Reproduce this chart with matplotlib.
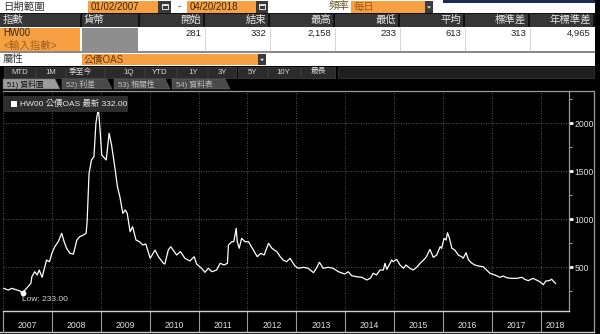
import matplotlib
matplotlib.use('Agg')
import matplotlib.pyplot as plt
from matplotlib.patches import Rectangle, Polygon, Circle
from matplotlib.ticker import FixedLocator, NullFormatter, FixedFormatter
import numpy as np

plt.rcParams['font.family'] = ['Liberation Sans', 'Noto Sans CJK TC', 'DejaVu Sans']

# ---------------- data ----------------
years = [2007.01, 2007.11, 2007.18, 2007.28, 2007.35, 2007.40, 2007.48, 2007.57, 2007.59, 2007.65,
         2007.70, 2007.74, 2007.80, 2007.89, 2007.95, 2008.00, 2008.06, 2008.13, 2008.20, 2008.25,
         2008.30, 2008.37, 2008.44, 2008.51, 2008.57, 2008.64, 2008.70, 2008.72, 2008.76, 2008.81,
         2008.86, 2008.90, 2008.95, 2008.98, 2009.02, 2009.05, 2009.11, 2009.13, 2009.17, 2009.22,
         2009.29, 2009.34, 2009.39, 2009.45, 2009.50, 2009.54, 2009.60, 2009.65, 2009.72, 2009.79,
         2009.86, 2009.92, 2010.01, 2010.11, 2010.18, 2010.28, 2010.31, 2010.38, 2010.43, 2010.48,
         2010.55, 2010.63, 2010.72, 2010.82, 2010.91, 2010.96, 2011.06, 2011.13, 2011.20, 2011.27,
         2011.37, 2011.44, 2011.52, 2011.59, 2011.61, 2011.68, 2011.72, 2011.77, 2011.79, 2011.83,
         2011.88, 2011.95, 2012.02, 2012.12, 2012.20, 2012.27, 2012.34, 2012.43, 2012.50, 2012.60,
         2012.67, 2012.73, 2012.80, 2012.87, 2012.97, 2013.04, 2013.14, 2013.24, 2013.35, 2013.42,
         2013.47, 2013.55, 2013.65, 2013.75, 2013.86, 2013.99, 2014.06, 2014.13, 2014.23, 2014.34,
         2014.44, 2014.51, 2014.57, 2014.64, 2014.71, 2014.78, 2014.81, 2014.85, 2014.95, 2014.98,
         2015.05, 2015.12, 2015.19, 2015.24, 2015.32, 2015.39, 2015.46, 2015.53, 2015.60, 2015.66,
         2015.73, 2015.80, 2015.87, 2015.94, 2015.97, 2016.02, 2016.06, 2016.09, 2016.13, 2016.18,
         2016.24, 2016.31, 2016.38, 2016.41, 2016.47, 2016.52, 2016.59, 2016.65, 2016.72, 2016.82,
         2016.89, 2016.96, 2017.06, 2017.16, 2017.23, 2017.30, 2017.40, 2017.51, 2017.61, 2017.67,
         2017.74, 2017.84, 2017.91, 2017.98, 2018.05, 2018.10, 2018.17, 2018.22, 2018.30]
oas = [281, 263, 281, 264, 253, 233, 281, 333, 402, 454,
       420, 472, 396, 576, 558, 646, 715, 767, 854, 767,
       698, 646, 638, 784, 819, 836, 854, 975, 1479, 1618,
       1652, 2000, 2158, 1965, 1670, 1652, 1618, 1704, 1896, 1774,
       1531, 1340, 1235, 1062, 1097, 1062, 871, 923, 784, 767,
       732, 743, 594, 680, 610, 542, 534, 680, 715, 680,
       628, 663, 594, 566, 610, 534, 490, 448, 490, 454,
       472, 542, 524, 542, 732, 767, 767, 906, 767, 698,
       802, 767, 767, 680, 610, 646, 628, 750, 698, 663,
       610, 576, 558, 594, 514, 490, 500, 490, 444, 500,
       552, 490, 500, 490, 454, 430, 454, 413, 402, 396,
       368, 385, 437, 420, 472, 472, 542, 479, 576, 558,
       583, 524, 490, 524, 490, 472, 500, 542, 576, 610,
       687, 604, 628, 715, 698, 802, 784, 860, 802, 698,
       680, 628, 610, 594, 652, 576, 542, 524, 514, 506,
       472, 437, 420, 396, 409, 392, 385, 385, 396, 375,
       361, 385, 368, 350, 319, 357, 361, 375, 332]

ticker_name = 'HW00'
field_name = '公債OAS'
start_date = '01/02/2007'
end_date = '04/20/2018'
frequency = '每日'
stat_headers = ['開始', '結束', '最高', '最低', '平均', '標準差', '年標準差']
stat_values = ['281', '332', '2,158', '233', '613', '313', '4,965']
range_buttons = ['MTD', '1M', '季至今', '1Q', 'YTD', '1Y', '3Y', '5Y', '10Y', '最長']
tab_labels = ['51) 資料圖', '52) 利差', '53) 相關性', '54) 資料表']
year_labels = [str(y) for y in range(2007, 2019)]
y_ticks = [500, 1000, 1500, 2000]
y_minor = [250, 750, 1250, 1750, 2250]

# ---------------- figure ----------------
W, H = 600, 334
fig = plt.figure(figsize=(W / 100, H / 100), dpi=100, facecolor='black')

ui = fig.add_axes([0, 0, 1, 1], zorder=0)
ui.set_xlim(0, W); ui.set_ylim(H, 0); ui.axis('off')
ui.set_facecolor('black')

ORANGE = '#F7A043'
WHITE = '#FFFFFF'
GRAYCELL = '#8E8E8E'
HDR = '#363636'


def rect(x0, y0, x1, y1, fc, ec='none', lw=0, z=1):
    ui.add_patch(Rectangle((x0, y0), x1 - x0, y1 - y0, facecolor=fc, edgecolor=ec, linewidth=lw, zorder=z))


def txt(x, y, s, color, ha='left', size=7, z=3, **kw):
    ui.text(x, y, s, color=color, ha=ha, va='center', fontsize=size, zorder=z, **kw)


def icon_box(x0, x1, y0, y1, kind='cal'):
    rect(x0, y0, x1, y1, '#3a3a3a', z=2)
    cx, cy = (x0 + x1) / 2, (y0 + y1) / 2
    if kind == 'cal':
        rect(cx - 3, cy - 2.5, cx + 3, cy + 2.5, 'none', ec='#e0e0e0', lw=0.7, z=3)
        rect(cx - 3, cy - 2.5, cx + 3, cy - 1, '#e0e0e0', z=3)
    else:
        ui.add_patch(Polygon([[cx - 2, cy - 0.5], [cx + 2, cy - 0.5], [cx, cy + 2]], closed=True,
                             facecolor='#e0e0e0', edgecolor='none', zorder=3))


# Row 1 : date range / frequency
rect(0, 0, 595, 13, WHITE)
rect(443, 0, 595, 2.5, '#1b2a55', z=2)
txt(3, 6.5, '日期範圍', '#3a3a3a', size=7.5)
rect(88, 1, 158, 12.5, ORANGE, z=2)
txt(91, 6.8, start_date, '#3a2808', size=7)
icon_box(158, 171, 1, 12.5)
txt(179, 6.5, '-', '#333333', ha='center', size=7)
rect(187, 1, 256, 12.5, ORANGE, z=2)
txt(190, 6.8, end_date, '#3a2808', size=7)
icon_box(256, 268, 1, 12.5)
txt(349, 6.5, '頻率', '#6b5520', ha='right', size=7.5)
rect(351, 1, 425, 12.5, ORANGE, z=2)
txt(354, 6.5, frequency, '#a85a14', size=7.5)
icon_box(425, 433, 1, 12.5, kind='dd')

# Row 2 : statistic headers
rect(0, 13, 595, 27, '#111111')
col_edges = [140, 205, 270, 335, 400, 465, 530, 595]
rect(0, 13.5, 80, 26.5, HDR, z=2)
txt(3, 20, '指數', '#e6e6e6', size=7.5)
rect(82, 13.5, 138, 26.5, HDR, z=2)
txt(84, 20, '貨幣', '#e6e6e6', size=7.5)
for i, h in enumerate(stat_headers):
    x0, x1 = col_edges[i], col_edges[i + 1]
    rect(x0, 13.5, x1 - 2, 26.5, HDR, z=2)
    txt(x1 - 4, 20, h, '#e6e6e6', ha='right', size=7.5)

# Rows 3-4 : ticker rows
rect(0, 27, 595, 51, WHITE)
rect(0, 27.5, 80, 39.5, ORANGE, z=2)
txt(3, 33.5, ticker_name, '#3a2808', size=7)
rect(0, 40, 80, 51, ORANGE, z=2)
txt(3, 45.5, '<輸入指數>', '#a0601c', size=7.5)
rect(82, 27.5, 138, 39.5, GRAYCELL, z=2)
rect(82, 40, 138, 51, GRAYCELL, z=2)
for i, v in enumerate(stat_values):
    x1 = col_edges[i + 1]
    txt(x1 - 4, 33.5, v, '#222222', ha='right', size=6.8)
    if i < len(stat_values) - 1:
        ui.plot([x1, x1], [27.5, 51], color='#d0d0d0', lw=0.6, zorder=2)
rect(0, 51, 595, 53, '#8a8a8a', z=2)

# Row 5 : field
rect(0, 53, 595, 65.5, WHITE)
txt(3, 59.3, '屬性', '#3a3a3a', size=7.5)
rect(82, 53.5, 258, 65, ORANGE, z=2)
txt(84, 59.5, field_name, '#6a3a08', size=7)
icon_box(258, 266, 53.5, 65, kind='dd')

# Row 6 : range buttons
btn_centers = [20, 51, 80, 129, 160, 193, 222, 252, 283, 318]
btn_edges = [3, 35.5, 65.5, 104.5, 144.5, 176.5, 207.5, 237, 267.5, 300.5, 336]
for i, lab in enumerate(range_buttons):
    rect(btn_edges[i] + 0.7, 66.5, btn_edges[i + 1] - 0.7, 77.5, '#2b2b2b', ec='#444444', lw=0.5, z=2)
    txt(btn_centers[i], 72, lab, '#d8d8d8', ha='center', size=5.6)
rect(338, 66.5, 594, 77.5, '#1f1f1f', ec='#3a3a3a', lw=0.5, z=2)

# Row 7 : tabs
tab_edges = [(3, 60), (62, 112), (114, 170), (172, 230)]
for i, (lab, (x0, x1)) in enumerate(zip(tab_labels, tab_edges)):
    fc = '#9c9c9c' if i == 0 else '#4a4a4a'
    tc = '#111111' if i == 0 else '#bdbdbd'
    ui.add_patch(Polygon([[x0, 89], [x0, 79], [x1 - 5, 79], [x1, 89]], closed=True,
                         facecolor=fc, edgecolor='#666666', linewidth=0.4, zorder=2))
    txt(x0 + 4, 84.3, lab, tc, size=5.6)

# chart frame lines (outer)
ui.plot([569, 594, 594], [91, 91, 332], color='#9a9a9a', lw=0.9, zorder=2)
ui.plot([0, 594], [331.8, 331.8], color='#cfcfcf', lw=1.0, zorder=2)
ui.plot([3, 3], [311, 332], color='#9a9a9a', lw=0.8, zorder=2)

# ---------------- chart ----------------
ax = fig.add_axes([3 / W, (H - 311) / H, 566 / W, 220 / H], zorder=2)
ax.set_facecolor('black')
xmin, xmax = 2007.0, 2018.575
ax.set_xlim(xmin, xmax)
ax.set_ylim(45, 2336)

ax.plot(years, oas, color='white', lw=0.9, zorder=3)

imax = int(np.argmax(oas)); imin = int(np.argmin(oas))
ax.plot(years[imax], oas[imax], 'o', ms=3, color='#9a9a9a', zorder=4)
ax.plot(years[imin], oas[imin], 'o', ms=3.2, color='white', zorder=4)
ax.annotate(f'Low: {oas[imin]:.2f}', (years[imin], oas[imin]), xytext=(-1, -7),
            textcoords='offset pixels', ha='left', va='center', color='#d8d8d8', fontsize=6)

# spines
for s in ['left']:
    ax.spines[s].set_visible(False)
ax.spines['top'].set_color('#9a9a9a'); ax.spines['top'].set_linewidth(0.9)
ax.spines['right'].set_color('#9a9a9a'); ax.spines['right'].set_linewidth(0.9)
ax.spines['bottom'].set_color('#d0d0d0'); ax.spines['bottom'].set_linewidth(1.0)

# x axis (year bands)
year_bounds = list(range(2007, 2019))
mids = [y + 0.5 for y in range(2007, 2018)] + [(2018 + xmax) / 2]
ax.xaxis.set_major_locator(FixedLocator(year_bounds))
ax.xaxis.set_major_formatter(NullFormatter())
ax.xaxis.set_minor_locator(FixedLocator(mids))
ax.xaxis.set_minor_formatter(FixedFormatter(year_labels))
ax.tick_params(axis='x', which='major', direction='out', length=15, width=0.8, color='#9a9a9a')
ax.tick_params(axis='x', which='minor', length=0, pad=7.3, labelsize=6.2, labelcolor='#e0e0e0')

# y axis right
ax.yaxis.tick_right()
ax.yaxis.set_major_locator(FixedLocator(y_ticks))
ax.yaxis.set_minor_locator(FixedLocator(y_minor))
ax.tick_params(axis='y', which='major', direction='out', length=3, width=2, color='white',
               pad=1.2, labelsize=6.2, labelcolor='#e0e0e0')
ax.tick_params(axis='y', which='minor', direction='out', length=2, width=0.8, color='#9a9a9a')
ax.grid(True, which='major', color='#707070', linestyle=(0, (1, 2)), linewidth=0.6)

# legend box
ov = fig.add_axes([0, 0, 1, 1], zorder=5)
ov.set_xlim(0, W); ov.set_ylim(H, 0); ov.axis('off'); ov.patch.set_alpha(0)
ov.add_patch(Rectangle((3, 96), 125, 16, facecolor='#2e2e2e', edgecolor='none', zorder=1))
ov.add_patch(Rectangle((11, 100.5), 6, 6, facecolor='white', edgecolor='none', zorder=2))
ov.text(20, 104, f'{ticker_name} {field_name} 最新 {oas[-1]:.2f}', color='#e8e8e8',
        fontsize=6, va='center', ha='left', zorder=3)

fig.savefig('out.png', dpi=100, facecolor='black')
